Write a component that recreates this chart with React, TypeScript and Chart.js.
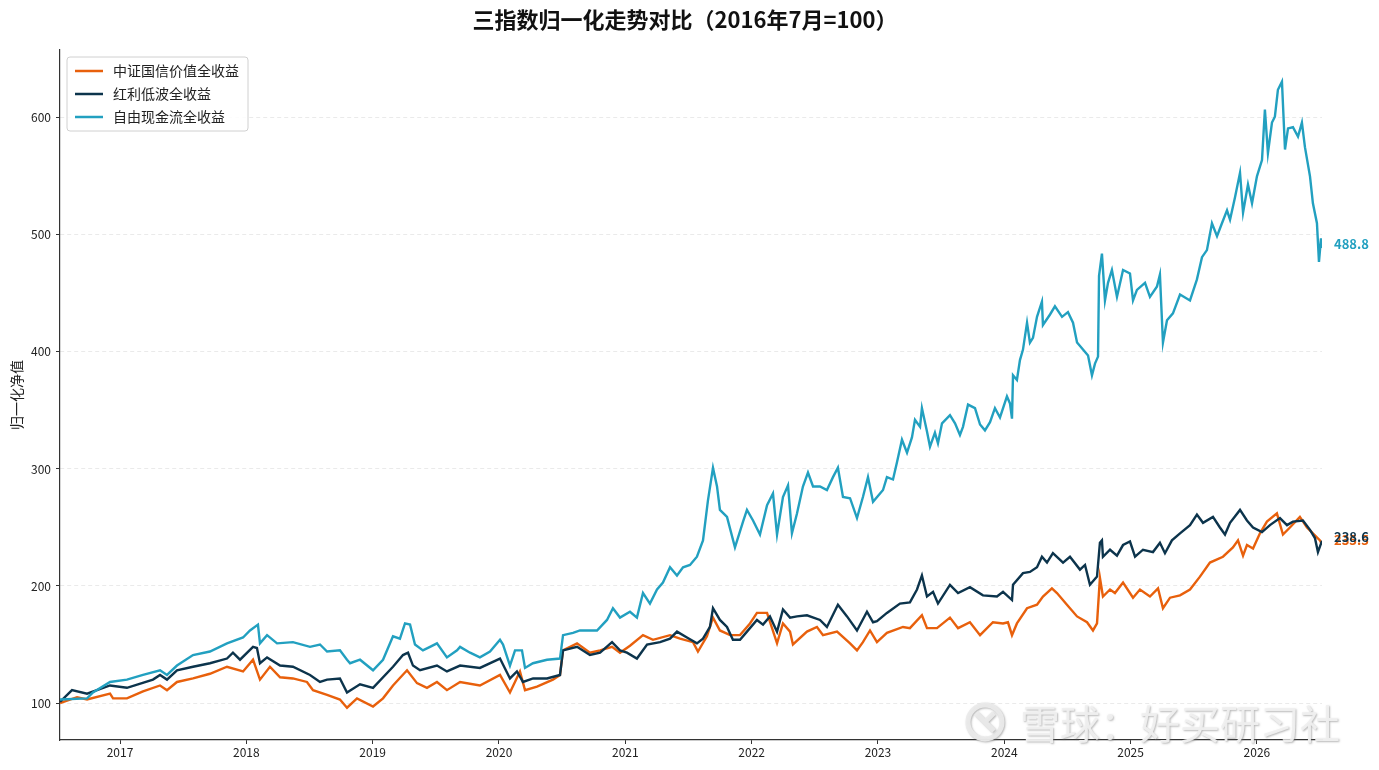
import React, { useEffect, useRef } from "react";
import { Chart, registerables } from "chart.js";

Chart.register(...registerables);

const chartTitle = "三指数归一化走势对比（2016年7月=100）";
const yAxisLabel = "归一化净值";
const watermarkText = "雪球：好买研习社";

const seriesNames = ["中证国信价值全收益", "红利低波全收益", "自由现金流全收益"];
const seriesColors = ["#E8600C", "#0C344C", "#22A0C0"];

const yearTicks = [2017, 2018, 2019, 2020, 2021, 2022, 2023, 2024, 2025, 2026];
const valueTicks = [100, 200, 300, 400, 500, 600];
const xRange = [2016.525, 2026.515];
const yRange = [68.4, 658];

// 中证国信价值全收益 (dates as decimal years)
const valueDates = [
  2016.525, 2016.66, 2016.739, 2016.921, 2016.945, 2017.055, 2017.182, 2017.317, 2017.372, 2017.451,
  2017.578, 2017.712, 2017.847, 2017.974, 2018.053, 2018.108, 2018.187, 2018.267, 2018.369, 2018.48,
  2018.528, 2018.639, 2018.741, 2018.797, 2018.876, 2019.003, 2019.082, 2019.161, 2019.272, 2019.351,
  2019.43, 2019.509, 2019.588, 2019.692, 2019.849, 2020.008, 2020.087, 2020.166, 2020.206, 2020.301,
  2020.427, 2020.483, 2020.507, 2020.618, 2020.72, 2020.8, 2020.895, 2020.958, 2021.037, 2021.14,
  2021.219, 2021.354, 2021.433, 2021.536, 2021.575, 2021.646, 2021.694, 2021.749, 2021.829, 2021.908,
  2021.987, 2022.042, 2022.122, 2022.201, 2022.248, 2022.304, 2022.327, 2022.438, 2022.517, 2022.565,
  2022.676, 2022.779, 2022.834, 2022.881, 2022.937, 2022.992, 2023.071, 2023.198, 2023.253, 2023.348,
  2023.388, 2023.467, 2023.57, 2023.634, 2023.728, 2023.808, 2023.91, 2023.99, 2024.029, 2024.061,
  2024.1, 2024.18, 2024.259, 2024.306, 2024.377, 2024.417, 2024.496, 2024.576, 2024.655, 2024.702,
  2024.734, 2024.757, 2024.781, 2024.837, 2024.876, 2024.94, 2025.019, 2025.074, 2025.153, 2025.217,
  2025.256, 2025.312, 2025.391, 2025.47, 2025.549, 2025.628, 2025.731, 2025.81, 2025.85, 2025.89,
  2025.921, 2025.969, 2026.024, 2026.079, 2026.158, 2026.206, 2026.261, 2026.34, 2026.396, 2026.443,
  2026.499, 2026.515,
];
const valueSeries = [
  100, 105, 103, 108, 104, 104, 110, 115, 111, 118,
  121, 125, 131, 127, 137, 120, 131, 122, 121, 118,
  111, 107, 103, 96, 104, 97, 104, 115, 128, 117,
  113, 118, 111, 118, 115, 124, 109, 127, 111, 114,
  120, 124, 145, 151, 143, 145, 148, 143, 149, 158,
  154, 158, 155, 152, 144, 157, 173, 162, 158, 158,
  168, 177, 177, 151, 168, 161, 150, 161, 165, 158,
  161, 151, 145, 152, 162, 152, 160, 165, 164, 175,
  164, 164, 173, 164, 169, 158, 169, 168, 169, 158,
  168, 181, 184, 191, 198, 194, 184, 174, 169, 162,
  168, 207, 191, 197, 194, 203, 190, 197, 191, 198,
  181, 190, 192, 197, 208, 220, 225, 233, 239, 226,
  235, 232, 245, 255, 262, 244, 250, 259, 250, 245,
  239, 235.5,
];

// 红利低波全收益
const dividendDates = [
  2016.525, 2016.62, 2016.739, 2016.921, 2017.055, 2017.261, 2017.317, 2017.372, 2017.451, 2017.578,
  2017.712, 2017.847, 2017.894, 2017.95, 2018.053, 2018.084, 2018.108, 2018.164, 2018.267, 2018.369,
  2018.504, 2018.583, 2018.639, 2018.741, 2018.797, 2018.9, 2019.003, 2019.161, 2019.24, 2019.28,
  2019.319, 2019.375, 2019.509, 2019.588, 2019.692, 2019.849, 2020.008, 2020.087, 2020.142, 2020.19,
  2020.27, 2020.38, 2020.483, 2020.507, 2020.618, 2020.72, 2020.8, 2020.895, 2020.958, 2021.013,
  2021.092, 2021.172, 2021.275, 2021.354, 2021.409, 2021.488, 2021.567, 2021.615, 2021.67, 2021.694,
  2021.749, 2021.805, 2021.852, 2021.908, 2021.963, 2022.042, 2022.09, 2022.145, 2022.201, 2022.248,
  2022.304, 2022.359, 2022.438, 2022.541, 2022.596, 2022.683, 2022.755, 2022.834, 2022.913, 2022.961,
  2022.992, 2023.071, 2023.174, 2023.253, 2023.309, 2023.348, 2023.388, 2023.436, 2023.475, 2023.57,
  2023.634, 2023.728, 2023.831, 2023.942, 2023.99, 2024.061, 2024.069, 2024.148, 2024.203, 2024.259,
  2024.298, 2024.338, 2024.385, 2024.465, 2024.52, 2024.599, 2024.639, 2024.678, 2024.734, 2024.757,
  2024.773, 2024.781, 2024.837, 2024.892, 2024.94, 2024.995, 2025.035, 2025.098, 2025.177, 2025.232,
  2025.272, 2025.327, 2025.391, 2025.47, 2025.525, 2025.573, 2025.652, 2025.707, 2025.747, 2025.787,
  2025.866, 2025.921, 2025.969, 2026.04, 2026.103, 2026.182, 2026.238, 2026.285, 2026.364, 2026.42,
  2026.459, 2026.483, 2026.515,
];
const dividendSeries = [
  101, 111, 108, 115, 113, 120, 124, 120, 128, 131,
  134, 138, 143, 137, 148, 147, 134, 139, 132, 131,
  124, 118, 120, 121, 109, 116, 113, 131, 141, 143,
  132, 128, 132, 127, 132, 130, 138, 121, 127, 118,
  121, 121, 124, 145, 148, 141, 143, 152, 145, 143,
  138, 150, 152, 155, 161, 156, 151, 155, 165, 181,
  171, 165, 154, 154, 161, 171, 167, 174, 161, 180,
  173, 174, 175, 171, 165, 184, 174, 162, 178, 169,
  170, 177, 185, 186, 197, 209, 191, 195, 185, 201,
  194, 199, 192, 191, 195, 188, 201, 211, 212, 216,
  225, 220, 228, 220, 225, 214, 218, 201, 208, 237,
  239, 225, 231, 226, 235, 238, 225, 231, 229, 237,
  228, 239, 245, 252, 261, 254, 259, 250, 244, 254,
  265, 256, 250, 246, 252, 258, 252, 255, 256, 248,
  241, 229, 238.6,
];

// 自由现金流全收益
const cashFlowDates = [
  2016.525, 2016.739, 2016.786, 2016.921, 2017.055, 2017.182, 2017.317, 2017.372, 2017.451, 2017.578,
  2017.712, 2017.847, 2017.974, 2018.029, 2018.092, 2018.108, 2018.164, 2018.243, 2018.369, 2018.504,
  2018.583, 2018.639, 2018.741, 2018.797, 2018.821, 2018.9, 2019.003, 2019.082, 2019.161, 2019.216,
  2019.256, 2019.296, 2019.335, 2019.398, 2019.454, 2019.509, 2019.588, 2019.668, 2019.692, 2019.771,
  2019.849, 2019.929, 2020.008, 2020.032, 2020.087, 2020.127, 2020.182, 2020.206, 2020.269, 2020.38,
  2020.483, 2020.507, 2020.586, 2020.641, 2020.776, 2020.855, 2020.902, 2020.958, 2021.037, 2021.092,
  2021.14, 2021.195, 2021.251, 2021.298, 2021.354, 2021.409, 2021.457, 2021.512, 2021.567, 2021.615,
  2021.654, 2021.694, 2021.726, 2021.749, 2021.805, 2021.868, 2021.932, 2021.963, 2022.011, 2022.066,
  2022.122, 2022.169, 2022.201, 2022.248, 2022.288, 2022.319, 2022.359, 2022.406, 2022.446, 2022.486,
  2022.541, 2022.596, 2022.644, 2022.683, 2022.723, 2022.779, 2022.834, 2022.881, 2022.921, 2022.961,
  2023.04, 2023.071, 2023.119, 2023.151, 2023.19, 2023.23, 2023.269, 2023.293, 2023.333, 2023.348,
  2023.388, 2023.412, 2023.451, 2023.475, 2023.507, 2023.57, 2023.61, 2023.649, 2023.673, 2023.713,
  2023.768, 2023.808, 2023.847, 2023.887, 2023.926, 2023.966, 2024.021, 2024.045, 2024.061, 2024.069,
  2024.1, 2024.124, 2024.148, 2024.18, 2024.203, 2024.227, 2024.259, 2024.298, 2024.306, 2024.362,
  2024.401, 2024.457, 2024.504, 2024.544, 2024.576, 2024.623, 2024.663, 2024.694, 2024.718, 2024.742,
  2024.75, 2024.773, 2024.797, 2024.821, 2024.852, 2024.892, 2024.94, 2024.995, 2025.019, 2025.05,
  2025.114, 2025.153, 2025.209, 2025.232, 2025.256, 2025.288, 2025.335, 2025.391, 2025.47, 2025.525,
  2025.565, 2025.604, 2025.644, 2025.684, 2025.723, 2025.763, 2025.787, 2025.826, 2025.866, 2025.89,
  2025.929, 2025.961, 2026.0, 2026.04, 2026.063, 2026.087, 2026.119, 2026.142, 2026.166, 2026.198,
  2026.222, 2026.246, 2026.285, 2026.325, 2026.356, 2026.38, 2026.42, 2026.443, 2026.475, 2026.491,
  2026.507, 2026.515,
];
const cashFlowSeries = [
  103, 104, 109, 118, 120, 124, 128, 124, 132, 141,
  144, 151, 156, 162, 167, 151, 158, 151, 152, 148,
  150, 144, 145, 137, 134, 137, 128, 137, 157, 155,
  168, 167, 150, 145, 148, 151, 139, 145, 148, 143,
  139, 144, 154, 150, 132, 145, 145, 130, 134, 137,
  138, 158, 160, 162, 162, 171, 181, 173, 178, 173,
  194, 185, 197, 203, 216, 209, 216, 218, 225, 239,
  273, 301, 285, 265, 259, 233, 255, 265, 256, 244,
  269, 279, 244, 276, 286, 245, 262, 285, 297, 285,
  285, 282, 293, 301, 276, 275, 258, 276, 293, 272,
  282, 293, 291, 306, 325, 314, 327, 342, 336, 352,
  332, 319, 331, 322, 339, 346, 339, 329, 336, 355,
  352, 338, 333, 340, 352, 344, 362, 356, 343, 380,
  376, 393, 402, 425, 408, 412, 430, 443, 423, 432,
  439, 430, 434, 425, 408, 402, 397, 380, 390, 396,
  465, 484, 444, 459, 470, 447, 470, 467, 444, 453,
  459, 447, 456, 466, 408, 427, 433, 449, 444, 462,
  481, 487, 510, 499, 510, 521, 513, 532, 553, 519,
  543, 527, 550, 564, 607, 570, 596, 601, 624, 631,
  573, 591, 592, 584, 596, 575, 550, 527, 510, 477,
  497, 488.8,
];

const seriesDates = [valueDates, dividendDates, cashFlowDates];
const seriesValues = [valueSeries, dividendSeries, cashFlowSeries];

const FONT = "'Noto Sans CJK SC', 'Noto Sans', sans-serif";

const overlayPlugin = {
  id: "overlay",
  afterDraw(chart: any) {
    const { ctx, chartArea } = chart;
    ctx.save();
    // title
    ctx.fillStyle = "#111";
    ctx.font = `bold 22px ${FONT}`;
    ctx.textAlign = "center";
    ctx.textBaseline = "middle";
    ctx.fillText(chartTitle, (chartArea.left + chartArea.right) / 2 - 6, 20);

    // y axis label
    ctx.save();
    ctx.translate(17, (chartArea.top + chartArea.bottom) / 2);
    ctx.rotate(-Math.PI / 2);
    ctx.font = `14px ${FONT}`;
    ctx.fillStyle = "#222";
    ctx.fillText(yAxisLabel, 0, 0);
    ctx.restore();

    // end labels
    const yScale = chart.scales.y;
    ctx.font = `bold 13px ${FONT}`;
    ctx.textAlign = "left";
    ctx.textBaseline = "middle";
    seriesValues.forEach((vals, i) => {
      const last = vals[vals.length - 1];
      ctx.fillStyle = seriesColors[i];
      ctx.fillText(last.toFixed(1), chartArea.right + 12, yScale.getPixelForValue(last) - 4);
    });

    // legend
    const lx = chartArea.left + 7;
    const ly = chartArea.top + 7;
    const lw = 181;
    const lh = 74;
    ctx.beginPath();
    const r = 3;
    ctx.moveTo(lx + r, ly);
    ctx.lineTo(lx + lw - r, ly);
    ctx.quadraticCurveTo(lx + lw, ly, lx + lw, ly + r);
    ctx.lineTo(lx + lw, ly + lh - r);
    ctx.quadraticCurveTo(lx + lw, ly + lh, lx + lw - r, ly + lh);
    ctx.lineTo(lx + r, ly + lh);
    ctx.quadraticCurveTo(lx, ly + lh, lx, ly + lh - r);
    ctx.lineTo(lx, ly + r);
    ctx.quadraticCurveTo(lx, ly, lx + r, ly);
    ctx.closePath();
    ctx.fillStyle = "rgba(255,255,255,0.85)";
    ctx.fill();
    ctx.strokeStyle = "#d0d0d0";
    ctx.lineWidth = 1;
    ctx.stroke();
    ctx.font = `14px ${FONT}`;
    chart.data.datasets.forEach((ds: any, i: number) => {
      const yy = ly + 14 + i * 23;
      ctx.strokeStyle = ds.borderColor;
      ctx.lineWidth = 2.5;
      ctx.beginPath();
      ctx.moveTo(lx + 8, yy);
      ctx.lineTo(lx + 36, yy);
      ctx.stroke();
      ctx.fillStyle = "#222";
      ctx.fillText(ds.label, lx + 46, yy);
    });

    // watermark
    ctx.save();
    ctx.shadowColor = "rgba(120,120,120,0.55)";
    ctx.shadowBlur = 2;
    ctx.shadowOffsetX = 1;
    ctx.shadowOffsetY = 1;
    ctx.strokeStyle = "rgba(235,235,235,0.95)";
    ctx.lineWidth = 5;
    ctx.beginPath();
    ctx.arc(985, 722, 17, 0, Math.PI * 2);
    ctx.stroke();
    ctx.beginPath();
    ctx.moveTo(976, 713);
    ctx.lineTo(994, 731);
    ctx.moveTo(994, 713);
    ctx.lineTo(985, 722);
    ctx.stroke();
    ctx.font = `40px ${FONT}`;
    ctx.fillStyle = "rgba(240,240,240,0.95)";
    ctx.textAlign = "left";
    ctx.textBaseline = "middle";
    ctx.fillText(watermarkText, 1020, 724);
    ctx.restore();

    ctx.restore();
  },
};

export default function App() {
  const canvasRef = useRef<HTMLCanvasElement | null>(null);

  useEffect(() => {
    document.body.style.margin = "0";
    if (!canvasRef.current) return;
    const datasets = seriesNames.map((name, i) => ({
      label: name,
      data: seriesDates[i].map((d, j) => ({ x: d, y: seriesValues[i][j] })),
      borderColor: seriesColors[i],
      backgroundColor: seriesColors[i],
      borderWidth: 2.4,
      pointRadius: 0,
      tension: 0,
      fill: false,
      order: 2 - i,
    }));
    const chart = new Chart(canvasRef.current, {
      type: "line",
      data: { datasets },
      options: {
        responsive: false,
        animation: false,
        events: [],
        layout: { padding: { top: 50, right: 57, left: 0, bottom: 0 } },
        plugins: {
          legend: { display: false },
          title: { display: false },
          tooltip: { enabled: false },
        },
        scales: {
          x: {
            type: "linear",
            min: xRange[0],
            max: xRange[1],
            afterBuildTicks: (scale: any) => {
              scale.ticks = yearTicks.map((v) => ({ value: v }));
            },
            afterFit: (scale: any) => {
              scale.height = 30;
            },
            ticks: {
              callback: (v: any) => String(v),
              color: "#222",
              font: { size: 12, family: FONT },
              padding: 1,
              maxRotation: 0,
            },
            grid: {
              drawOnChartArea: false,
              drawTicks: true,
              tickLength: 4,
              tickColor: "#333",
              tickWidth: 1,
            },
            border: { display: true, color: "#333", width: 1.2 },
          },
          y: {
            type: "linear",
            min: yRange[0],
            max: yRange[1],
            afterBuildTicks: (scale: any) => {
              scale.ticks = valueTicks.map((v) => ({ value: v }));
            },
            afterFit: (scale: any) => {
              scale.width = 60;
            },
            ticks: {
              callback: (v: any) => String(v),
              color: "#222",
              font: { size: 12, family: FONT },
              padding: 5,
            },
            grid: {
              color: "#e4e4e4",
              lineWidth: 0.8,
              drawTicks: true,
              tickLength: 4,
              tickColor: "#333",
              tickWidth: 1,
              tickBorderDash: [],
            },
            border: { display: true, color: "#333", width: 1.2, dash: [4, 3] },
          },
        },
      },
      plugins: [overlayPlugin],
    });
    return () => chart.destroy();
  }, []);

  return (
    <div style={{ width: 1379, height: 770, background: "#fff" }}>
      <canvas ref={canvasRef} width={1379} height={770} />
    </div>
  );
}
